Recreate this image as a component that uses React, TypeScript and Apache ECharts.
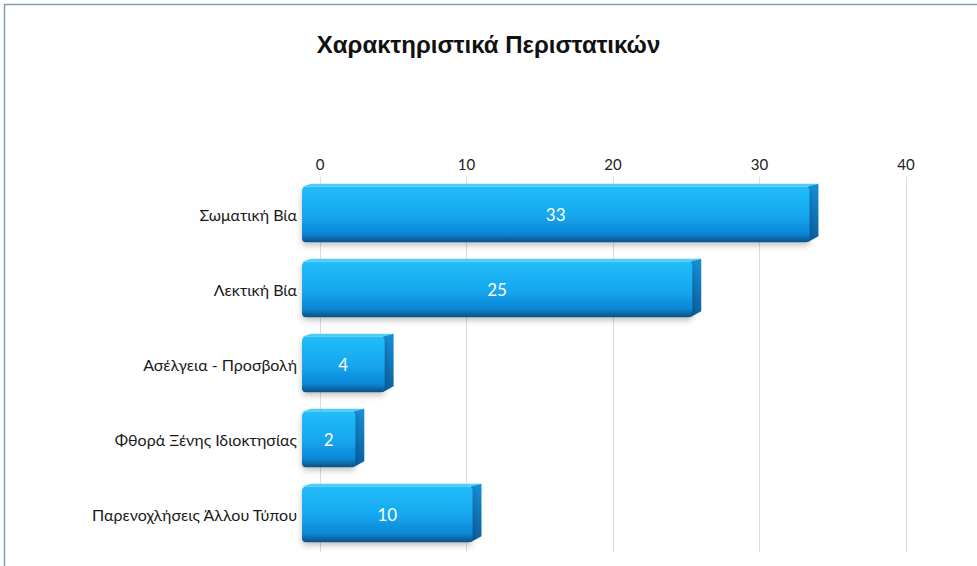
import React, { useEffect, useRef } from "react";
import * as echarts from "echarts";

const title = "Χαρακτηριστικά Περιστατικών";
const categories = [
  "Σωματική Βία",
  "Λεκτική Βία",
  "Ασέλγεια - Προσβολή",
  "Φθορά Ξένης Ιδιοκτησίας",
  "Παρενοχλήσεις Άλλου Τύπου",
];
const values = [33, 25, 4, 2, 10];
const axisMin = 0;
const axisMax = 40;
const axisInterval = 10;

export default function App() {
  const ref = useRef<HTMLDivElement>(null);
  useEffect(() => {
    if (!ref.current) return;
    const chart = echarts.init(ref.current, null, { renderer: "svg" });
    const font = "Lato, 'Noto Sans', sans-serif";
    chart.setOption({
      animation: false,
      backgroundColor: "#ffffff",
      title: {
        text: title,
        left: "center",
        top: 27,
        textStyle: {
          fontFamily: "'Liberation Sans Narrow', 'Liberation Sans', sans-serif",
          fontWeight: "bold",
          fontSize: 24,
          color: "#111",
        },
      },
      graphic: [
        {
          type: "rect",
          shape: { x: 4.5, y: 4.5, width: 990, height: 600 },
          style: { fill: "none", stroke: "#7d9fae", lineWidth: 1.5 },
          silent: true,
        },
      ],
      grid: { left: 320, right: 71, top: 177, bottom: 14 },
      xAxis: {
        type: "value",
        position: "top",
        min: axisMin,
        max: axisMax,
        interval: axisInterval,
        axisLine: { show: false },
        axisTick: { show: false },
        axisLabel: { color: "#222", fontSize: 15, fontFamily: font, margin: 6 },
        splitLine: { show: true, lineStyle: { color: "#dcdcdc", width: 1 } },
      },
      yAxis: {
        type: "category",
        inverse: true,
        data: categories,
        axisLine: { show: false },
        axisTick: { show: false },
        axisLabel: { color: "#1a1a1a", fontSize: 16, fontFamily: font, margin: 23 },
      },
      series: [
        {
          type: "custom",
          encode: { x: 0, y: 1 },
          data: values.map((v, i) => [v, i]),
          renderItem: (params: any, api: any) => {
            const val = api.value(0);
            const idx = api.value(1);
            const p0 = api.coord([0, idx]);
            const p1 = api.coord([val, idx]);
            const h = api.size([0, 1])[1] * 0.74;
            const lead = 18;
            const depth = 9;
            const x0 = p0[0] - lead;
            const x1 = p1[0] + 6;
            const y = p0[1] - h / 2;
            return {
              type: "group",
              children: [
                {
                  type: "polygon",
                  shape: {
                    points: [
                      [x0, y],
                      [x0 + depth, y - 3],
                      [x1 + depth, y - 3],
                      [x1, y],
                    ],
                  },
                  style: { fill: "#4fd0fc" },
                },
                {
                  type: "polygon",
                  shape: {
                    points: [
                      [x1 - 2, y],
                      [x1 + depth, y - 3],
                      [x1 + depth, y + h - 6],
                      [x1 - 2, y + h],
                    ],
                  },
                  style: {
                    fill: new echarts.graphic.LinearGradient(0, 0, 0, 1, [
                      { offset: 0, color: "#1590d8" },
                      { offset: 1, color: "#0b5e9e" },
                    ]),
                  },
                },
                {
                  type: "rect",
                  shape: { x: x0, y: y, width: x1 - x0, height: h, r: 4 },
                  style: {
                    fill: new echarts.graphic.LinearGradient(0, 0, 0, 1, [
                      { offset: 0, color: "#22bdf8" },
                      { offset: 0.5, color: "#15a8f0" },
                      { offset: 0.85, color: "#0d86d6" },
                      { offset: 1, color: "#0a4f80" },
                    ]),
                    shadowBlur: 6,
                    shadowOffsetY: 3,
                    shadowColor: "rgba(0,0,0,0.25)",
                  },
                },
                {
                  type: "text",
                  style: {
                    text: String(val),
                    x: (x0 + x1) / 2,
                    y: p0[1],
                    align: "center",
                    verticalAlign: "middle",
                    fill: "#ffffff",
                    fontSize: 17,
                    fontFamily: font,
                  },
                },
              ],
            };
          },
        },
      ],
    });
    return () => chart.dispose();
  }, []);
  return (
    <div
      ref={ref}
      style={{ position: "fixed", left: 0, top: 0, width: 977, height: 566 }}
    />
  );
}
